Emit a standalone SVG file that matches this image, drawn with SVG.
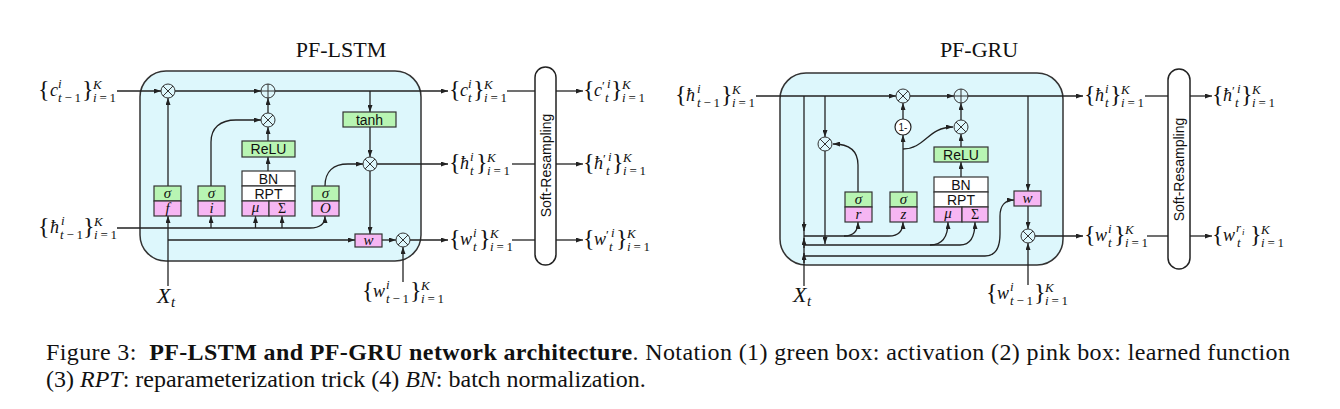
<svg xmlns="http://www.w3.org/2000/svg" width="1340" height="409" viewBox="0 0 1340 409">
<style>
.frame{fill:#ddf7fc;stroke:#333;stroke-width:1.5}
.g{fill:#b8f5b3;stroke:#333;stroke-width:1.2}
.p{fill:#f6b6f3;stroke:#333;stroke-width:1.2}
.wb{fill:#fff;stroke:#333;stroke-width:1.2}
.sr{fill:#fff;stroke:#222;stroke-width:1.5}
.ln{fill:none;stroke:#222;stroke-width:1.3}
.a{marker-end:url(#ah)}
text{fill:#111}
.br{font:24px "Liberation Serif",serif}
.b{font:italic 18px "Liberation Serif",serif}
.sc{font:13px "Liberation Serif",serif}
.ss{font:9px "Liberation Serif",serif}
.it{font-style:italic}
.sans{font:14px "Liberation Sans",Arial,sans-serif;text-anchor:middle}
.gl{font:italic 15px "Liberation Serif",serif;text-anchor:middle}
.gr{font:14px "Liberation Serif",serif;text-anchor:middle}
.xt{font:italic 22px "Liberation Serif",serif}
.xs{font:italic 15px "Liberation Serif",serif}
.title{font:22px "Liberation Serif",serif;text-anchor:middle}
.cap{font:24px "Liberation Serif",serif}
</style>
<defs>
<marker id="ah" viewBox="0 0 7 5" refX="7" refY="2.5" markerWidth="7" markerHeight="5" markerUnits="userSpaceOnUse" orient="auto"><path d="M0,0L7,2.5L0,5z" fill="#222"/></marker>
<g id="otimes"><circle r="7" fill="#ddf7fc" stroke="#333" stroke-width="1"/><path d="M-5,-5L5,5M-5,5L5,-5" stroke="#333" stroke-width="1"/></g>
<g id="oplus"><circle r="7" fill="#ddf7fc" stroke="#333" stroke-width="1"/><path d="M-7,0H7M0,-7V7" stroke="#333" stroke-width="1"/></g>
</defs>

<!-- titles -->
<text class="title" x="341" y="57">PF-LSTM</text>
<text class="title" x="979" y="57">PF-GRU</text>

<!-- frames -->
<rect id="lstm-frame" class="frame" x="140" y="71" width="281" height="190" rx="26"/>
<rect id="gru-frame" class="frame" x="780" y="73" width="283" height="192" rx="26"/>

<g id="connectors">
<!-- LSTM -->
<path class="ln a" d="M117,91H161"/>
<path class="ln a" d="M175,91H261"/>
<path class="ln a" d="M275,91H448"/>
<path class="ln" d="M507,91H535"/>
<path class="ln a" d="M556,91H583"/>
<path class="ln a" d="M370,91V112"/>
<path class="ln a" d="M370,127V157"/>
<path class="ln a" d="M377,164H448"/>
<path class="ln" d="M512,164H535"/>
<path class="ln a" d="M556,164H583"/>
<path class="ln a" d="M370,171V234"/>
<path class="ln a" d="M168,240H355"/>
<path class="ln a" d="M382,240H396"/>
<path class="ln a" d="M410,240H448"/>
<path class="ln" d="M512,240H535"/>
<path class="ln a" d="M556,240H583"/>
<path class="ln a" d="M403,282V247"/>
<path class="ln a" d="M168,286V216"/>
<path class="ln a" d="M168,186V98"/>
<path class="ln a" d="M211,186V142C211,128 220,120 236,120H261"/>
<path class="ln a" d="M268,171V157"/>
<path class="ln a" d="M268,141V127"/>
<path class="ln a" d="M268,113V98"/>
<path class="ln a" d="M325,186C325,172 333,164 348,164H363"/>
<path class="ln a" d="M117,228H310C320,228 325,224 325,216"/>
<path class="ln a" d="M211,228V216"/>
<path class="ln a" d="M255.5,228V216"/>
<path class="ln a" d="M282,228V216"/>
<!-- GRU -->
<path class="ln a" d="M756,96H896"/>
<path class="ln a" d="M910,96H954"/>
<path class="ln a" d="M968,96H1083"/>
<path class="ln" d="M1145,96H1168"/>
<path class="ln a" d="M1190,96H1212"/>
<path class="ln a" d="M1028,96V191"/>
<path class="ln a" d="M1028,206V229"/>
<path class="ln a" d="M1035,236H1083"/>
<path class="ln" d="M1147,236H1168"/>
<path class="ln a" d="M1190,236H1212"/>
<path class="ln a" d="M1028,285V243"/>
<path class="ln a" d="M825,96V137"/>
<path class="ln a" d="M825,151V244"/>
<path class="ln" d="M804,96V286"/>
<path class="ln a" d="M804,222V231"/>
<path class="ln a" d="M804,248V238"/>
<path class="ln a" d="M804,263V253"/>
<path class="ln a" d="M804,236H844C853,236 858,231 858,222"/>
<path class="ln a" d="M844,236H889C898,236 903,231 903,222"/>
<path class="ln a" d="M804,245H930C942,245 948,237 948,222"/>
<path class="ln a" d="M930,245H960C970,245 975,237 975,222"/>
<path class="ln a" d="M804,256H985C996,256 1000,248 1000,234V216C1000,206 1005,200 1014,200"/>
<path class="ln a" d="M858,192V165C858,152 850,144 833,144"/>
<path class="ln a" d="M903,192V135"/>
<path class="ln a" d="M903,119V103"/>
<path class="ln a" d="M903,149C925,149 928,127 953,127"/>
<path class="ln a" d="M961,177V162"/>
<path class="ln a" d="M961,147V134"/>
<path class="ln a" d="M961,120V103"/>
</g>

<!-- LSTM nodes -->
<g id="lstm-mul-f"><use href="#otimes" x="168" y="91"/></g>
<g id="lstm-add-c"><use href="#oplus" x="268" y="91"/></g>
<g id="lstm-mul-i"><use href="#otimes" x="268" y="120"/></g>
<g id="lstm-mul-o"><use href="#otimes" x="370" y="164"/></g>
<g id="lstm-mul-w"><use href="#otimes" x="403" y="240"/></g>
<g id="lstm-tanh"><rect class="g" x="343" y="112" width="53" height="15"/><text class="sans" x="369.5" y="124.5">tanh</text></g>
<g id="lstm-relu"><rect class="g" x="242" y="141" width="53" height="16"/><text class="sans" x="268.5" y="154">ReLU</text></g>
<g id="lstm-bn">
<rect class="wb" x="242" y="171" width="53" height="15"/><text class="sans" x="268.5" y="183.5">BN</text>
<rect class="wb" x="242" y="186" width="53" height="15"/><text class="sans" x="268.5" y="198.5">RPT</text>
<rect class="p" x="242" y="201" width="27" height="15"/><text class="gl" x="255.5" y="212">μ</text>
<rect class="p" x="269" y="201" width="26" height="15"/><text class="gr" x="282" y="213">Σ</text>
</g>
<g id="lstm-gate-f"><rect class="g" x="154" y="186" width="27" height="15"/><text class="gl" x="167.5" y="197.5">σ</text><rect class="p" x="154" y="201" width="27" height="15"/><text class="gl" x="167.5" y="212.5">f</text></g>
<g id="lstm-gate-i"><rect class="g" x="198" y="186" width="27" height="15"/><text class="gl" x="211.5" y="197.5">σ</text><rect class="p" x="198" y="201" width="27" height="15"/><text class="gl" x="211.5" y="212.5">i</text></g>
<g id="lstm-gate-o"><rect class="g" x="312" y="186" width="27" height="15"/><text class="gl" x="325.5" y="197.5">σ</text><rect class="p" x="312" y="201" width="27" height="15"/><text class="gl" x="325.5" y="213">O</text></g>
<g id="lstm-w"><rect class="p" x="355" y="234" width="27" height="13"/><text class="gl" x="368.5" y="244.5">w</text></g>
<g id="lstm-resample"><rect class="sr" x="535" y="67" width="21" height="198" rx="10.5"/><text class="sans" transform="translate(550.5,165.5) rotate(-90)">Soft-Resampling</text></g>

<!-- GRU nodes -->
<g id="gru-mul-r"><use href="#otimes" x="825" y="144"/></g>
<g id="gru-mul-1mz"><use href="#otimes" x="903" y="96"/></g>
<g id="gru-add-h"><use href="#oplus" x="961" y="96"/></g>
<g id="gru-mul-z"><use href="#otimes" x="961" y="127"/></g>
<g id="gru-mul-w"><use href="#otimes" x="1028" y="236"/></g>
<g id="gru-one-minus"><circle cx="903" cy="127" r="8" fill="#fff" stroke="#222" stroke-width="1.2"/><text x="903" y="130.5" style="font:10px 'Liberation Sans',Arial,sans-serif;text-anchor:middle">1-</text></g>
<g id="gru-relu"><rect class="g" x="934" y="147" width="54" height="15"/><text class="sans" x="961" y="159.5">ReLU</text></g>
<g id="gru-bn">
<rect class="wb" x="934" y="177" width="54" height="15"/><text class="sans" x="961" y="189.5">BN</text>
<rect class="wb" x="934" y="192" width="54" height="15"/><text class="sans" x="961" y="204.5">RPT</text>
<rect class="p" x="934" y="207" width="28" height="15"/><text class="gl" x="948" y="218">μ</text>
<rect class="p" x="962" y="207" width="26" height="15"/><text class="gr" x="975" y="219">Σ</text>
</g>
<g id="gru-gate-r"><rect class="g" x="845" y="192" width="27" height="15"/><text class="gl" x="858.5" y="203.5">σ</text><rect class="p" x="845" y="207" width="27" height="15"/><text class="gl" x="858.5" y="218.5">r</text></g>
<g id="gru-gate-z"><rect class="g" x="890" y="192" width="27" height="15"/><text class="gl" x="903.5" y="203.5">σ</text><rect class="p" x="890" y="207" width="27" height="15"/><text class="gl" x="903.5" y="218.5">z</text></g>
<g id="gru-w"><rect class="p" x="1014" y="191" width="27" height="15"/><text class="gl" x="1027.5" y="202.5">w</text></g>
<g id="gru-resample"><rect class="sr" x="1168" y="69" width="22" height="200" rx="11"/><text class="sans" transform="translate(1184,169.5) rotate(-90)">Soft-Resampling</text></g>

<!-- LSTM labels -->
<g id="lbl-lstm-c-prev"><text class="br" x="38" y="97">{</text><text class="b" x="50" y="96">c</text><text class="sc it" x="58" y="88">i</text><text class="sc" x="58" y="102" textLength="23" lengthAdjust="spacing"><tspan class="it">t</tspan>−1</text><text class="br" x="82" y="97">}</text><text class="sc it" x="93" y="89">K</text><text class="sc" x="93" y="102" textLength="23" lengthAdjust="spacing"><tspan class="it">i</tspan>=1</text></g>
<g id="lbl-lstm-h-prev"><text class="br" x="38" y="234">{</text><text class="b" x="50" y="233">ħ</text><text class="sc it" x="61" y="225">i</text><text class="sc" x="60" y="239" textLength="23" lengthAdjust="spacing"><tspan class="it">t</tspan>−1</text><text class="br" x="83" y="234">}</text><text class="sc it" x="94" y="226">K</text><text class="sc" x="94" y="239" textLength="23" lengthAdjust="spacing"><tspan class="it">i</tspan>=1</text></g>
<g id="lbl-lstm-c"><text class="br" x="449" y="97">{</text><text class="b" x="460" y="96">c</text><text class="sc it" x="468" y="88">i</text><text class="sc it" x="468" y="102">t</text><text class="br" x="473" y="97">}</text><text class="sc it" x="484" y="89">K</text><text class="sc" x="484" y="102" textLength="23" lengthAdjust="spacing"><tspan class="it">i</tspan>=1</text></g>
<g id="lbl-lstm-h"><text class="br" x="449" y="170">{</text><text class="b" x="460" y="169">ħ</text><text class="sc it" x="470" y="161">i</text><text class="sc it" x="470" y="175">t</text><text class="br" x="476" y="170">}</text><text class="sc it" x="487" y="162">K</text><text class="sc" x="487" y="175" textLength="23" lengthAdjust="spacing"><tspan class="it">i</tspan>=1</text></g>
<g id="lbl-lstm-w"><text class="br" x="449" y="246">{</text><text class="b" x="460" y="245">w</text><text class="sc it" x="473" y="237">i</text><text class="sc it" x="473" y="251">t</text><text class="br" x="479" y="246">}</text><text class="sc it" x="490" y="238">K</text><text class="sc" x="490" y="251" textLength="23" lengthAdjust="spacing"><tspan class="it">i</tspan>=1</text></g>
<g id="lbl-lstm-c-new"><text class="br" x="583" y="97">{</text><text class="b" x="594" y="96">c</text><text class="sc" x="602" y="90">′</text><text class="sc it" x="607" y="88">i</text><text class="sc it" x="605" y="102">t</text><text class="br" x="611" y="97">}</text><text class="sc it" x="622" y="89">K</text><text class="sc" x="622" y="102" textLength="23" lengthAdjust="spacing"><tspan class="it">i</tspan>=1</text></g>
<g id="lbl-lstm-h-new"><text class="br" x="583" y="170">{</text><text class="b" x="594" y="169">ħ</text><text class="sc" x="603" y="163">′</text><text class="sc it" x="608" y="161">i</text><text class="sc it" x="606" y="175">t</text><text class="br" x="612" y="170">}</text><text class="sc it" x="623" y="162">K</text><text class="sc" x="623" y="175" textLength="23" lengthAdjust="spacing"><tspan class="it">i</tspan>=1</text></g>
<g id="lbl-lstm-w-new"><text class="br" x="583" y="246">{</text><text class="b" x="594" y="245">w</text><text class="sc" x="606" y="239">′</text><text class="sc it" x="611" y="237">i</text><text class="sc it" x="609" y="251">t</text><text class="br" x="616" y="246">}</text><text class="sc it" x="627" y="238">K</text><text class="sc" x="627" y="251" textLength="23" lengthAdjust="spacing"><tspan class="it">i</tspan>=1</text></g>
<g id="lbl-lstm-w-prev"><text class="br" x="362" y="298">{</text><text class="b" x="373" y="297">w</text><text class="sc it" x="386" y="289">i</text><text class="sc" x="386" y="303" textLength="23" lengthAdjust="spacing"><tspan class="it">t</tspan>−1</text><text class="br" x="410" y="298">}</text><text class="sc it" x="421" y="290">K</text><text class="sc" x="421" y="303" textLength="23" lengthAdjust="spacing"><tspan class="it">i</tspan>=1</text></g>
<g id="lbl-lstm-x"><text class="xt" x="157" y="303">X</text><text class="xs" x="171" y="307">t</text></g>

<!-- GRU labels -->
<g id="lbl-gru-h-prev"><text class="br" x="675" y="102">{</text><text class="b" x="686" y="101">ħ</text><text class="sc it" x="697" y="93">i</text><text class="sc" x="697" y="107" textLength="23" lengthAdjust="spacing"><tspan class="it">t</tspan>−1</text><text class="br" x="721" y="102">}</text><text class="sc it" x="732" y="94">K</text><text class="sc" x="732" y="107" textLength="23" lengthAdjust="spacing"><tspan class="it">i</tspan>=1</text></g>
<g id="lbl-gru-h"><text class="br" x="1084" y="102">{</text><text class="b" x="1095" y="101">ħ</text><text class="sc it" x="1105" y="93">i</text><text class="sc it" x="1105" y="107">t</text><text class="br" x="1110" y="102">}</text><text class="sc it" x="1121" y="94">K</text><text class="sc" x="1121" y="107" textLength="23" lengthAdjust="spacing"><tspan class="it">i</tspan>=1</text></g>
<g id="lbl-gru-w"><text class="br" x="1084" y="242">{</text><text class="b" x="1095" y="241">w</text><text class="sc it" x="1108" y="233">i</text><text class="sc it" x="1108" y="247">t</text><text class="br" x="1114" y="242">}</text><text class="sc it" x="1125" y="234">K</text><text class="sc" x="1125" y="247" textLength="23" lengthAdjust="spacing"><tspan class="it">i</tspan>=1</text></g>
<g id="lbl-gru-h-new"><text class="br" x="1212" y="102">{</text><text class="b" x="1223" y="101">ħ</text><text class="sc" x="1232" y="95">′</text><text class="sc it" x="1237" y="93">i</text><text class="sc it" x="1235" y="107">t</text><text class="br" x="1241" y="102">}</text><text class="sc it" x="1252" y="94">K</text><text class="sc" x="1252" y="107" textLength="23" lengthAdjust="spacing"><tspan class="it">i</tspan>=1</text></g>
<g id="lbl-gru-w-new"><text class="br" x="1212" y="242">{</text><text class="b" x="1223" y="241">w</text><text class="sc it" x="1236" y="232">r</text><text class="ss it" x="1242" y="235">i</text><text class="sc it" x="1237" y="247">t</text><text class="br" x="1250" y="242">}</text><text class="sc it" x="1261" y="234">K</text><text class="sc" x="1261" y="247" textLength="23" lengthAdjust="spacing"><tspan class="it">i</tspan>=1</text></g>
<g id="lbl-gru-w-prev"><text class="br" x="986" y="300">{</text><text class="b" x="997" y="299">w</text><text class="sc it" x="1010" y="291">i</text><text class="sc" x="1010" y="305" textLength="23" lengthAdjust="spacing"><tspan class="it">t</tspan>−1</text><text class="br" x="1034" y="300">}</text><text class="sc it" x="1045" y="292">K</text><text class="sc" x="1045" y="305" textLength="23" lengthAdjust="spacing"><tspan class="it">i</tspan>=1</text></g>
<g id="lbl-gru-x"><text class="xt" x="793" y="302">X</text><text class="xs" x="807" y="306">t</text></g>

<!-- caption -->
<text class="cap" x="46" y="360" textLength="1244" lengthAdjust="spacing">Figure 3: <tspan font-weight="bold" dx="6">PF-LSTM and PF-GRU network architecture</tspan>. Notation (1) green box: activation (2) pink box: learned function</text>
<text class="cap" x="46" y="387">(3) <tspan class="it">RPT</tspan>: reparameterization trick (4) <tspan class="it">BN</tspan>: batch normalization.</text>
</svg>
